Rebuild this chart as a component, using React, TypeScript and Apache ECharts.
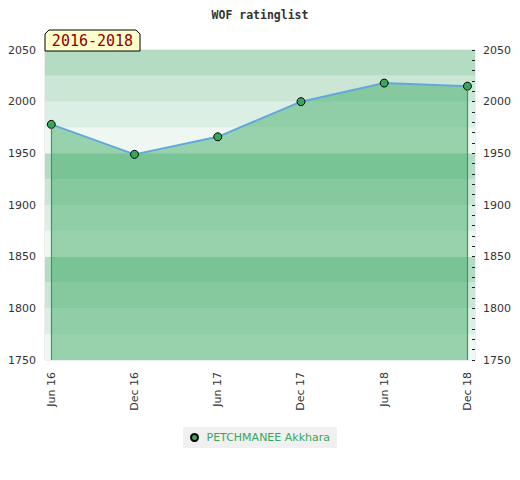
import React, { useEffect, useRef } from "react";
import * as echarts from "echarts";

const categories = ["Jun 16", "Dec 16", "Jun 17", "Dec 17", "Jun 18", "Dec 18"];
const ratings = [1978, 1949, 1966, 2000, 2018, 2015];
const playerName = "PETCHMANEE Akkhara";
const periodLabel = "2016-2018";
const chartTitle = "WOF ratinglist";
const yMin = 1750;
const yMax = 2050;
// bands from the bottom up: very light, light, medium, dark (repeating)
const bandColors = ["#eef7f1", "#dcefe4", "#cce6d6", "#b3dcc2"];

export default function App() {
  const ref = useRef<HTMLDivElement>(null);
  useEffect(() => {
    if (!ref.current) return;
    document.body.style.margin = "0";
    const chart = echarts.init(ref.current, null, { renderer: "svg" });
    const pts = categories.map((c, i) => [i, ratings[i]]);
    const last = categories.length - 1;
    const option: any = {
      animation: false,
      title: {
        text: chartTitle,
        left: "center",
        top: 4,
        textStyle: {
          fontFamily: "DejaVu Sans Mono",
          fontWeight: "bold",
          fontSize: 11.5,
          color: "#333",
        },
      },
      grid: {
        left: 45,
        right: 45,
        top: 50,
        bottom: 120,
        show: true,
        borderColor: "#dddddd",
        borderWidth: 1,
        backgroundColor: "transparent",
      },
      xAxis: {
        type: "value",
        min: -0.0757,
        max: last + 0.091,
        splitLine: { show: false },
        axisLine: { show: false },
        axisTick: { show: false },
        axisLabel: {
          customValues: categories.map((c, i) => i),
          formatter: (v: number) => categories[Math.round(v)] ?? "",
          rotate: 90,
          margin: 12,
          fontFamily: "DejaVu Sans",
          fontSize: 11,
          color: "#333",
        },
      },
      yAxis: [
        {
          type: "value",
          position: "left",
          min: yMin,
          max: yMax,
          interval: 25,
          axisLine: { show: false },
          axisTick: { show: false },
          splitLine: { show: false },
          splitArea: { show: true, areaStyle: { color: bandColors, opacity: 1 } },
          axisLabel: {
            formatter: (v: number) => (v % 50 === 0 ? String(v) : ""),
            margin: 9,
            fontFamily: "DejaVu Sans",
            fontSize: 11,
            color: "#333",
          },
        },
        {
          type: "value",
          position: "right",
          min: yMin,
          max: yMax,
          interval: 50,
          axisLine: { show: false },
          axisTick: { show: true, inside: true, length: 3, lineStyle: { color: "#222", width: 1 } },
          minorTick: { show: true, splitNumber: 5, length: 3, lineStyle: { color: "#222", width: 1 } },
          splitLine: { show: false },
          minorSplitLine: { show: false },
          axisLabel: {
            formatter: (v: number) => String(v),
            margin: 8,
            fontFamily: "DejaVu Sans",
            fontSize: 11,
            color: "#333",
          },
        },
      ],
      legend: {
        data: [playerName],
        left: "center",
        top: 427,
        backgroundColor: "#f0f0f0",
        padding: [5, 7, 5, 7],
        icon: "circle",
        itemWidth: 14,
        itemHeight: 7,
        textStyle: { color: "#3aa65a", fontFamily: "DejaVu Sans", fontSize: 11 },
      },
      series: [
        {
          name: playerName,
          type: "line",
          data: pts,
          z: 3,
          symbol: "circle",
          symbolSize: 8,
          itemStyle: { color: "#3aa65a", borderColor: "#000", borderWidth: 1 },
          lineStyle: { color: "#62a8dc", width: 2 },
          areaStyle: { color: "rgb(59,169,99)", opacity: 0.48, origin: "start" },
          markLine: {
            silent: true,
            symbol: ["none", "none"],
            label: { show: false },
            lineStyle: { color: "#2fa055", width: 1.2, type: "solid", opacity: 1 },
            data: [
              [{ coord: [0, ratings[0]] }, { coord: [0, yMin] }],
              [{ coord: [last, ratings[last]] }, { coord: [last, yMin] }],
            ],
          },
        },
      ],
      graphic: [
        {
          type: "polygon",
          shape: {
            points: [
              [45, 51],
              [45, 34],
              [49, 30],
              [136, 30],
              [140, 34],
              [140, 51],
            ],
          },
          style: { fill: "#ffffcc", stroke: "#000", lineWidth: 1 },
          z: 10,
        },
        {
          type: "text",
          x: 92.5,
          y: 41,
          style: {
            text: periodLabel,
            fill: "#8b0000",
            font: "15px 'DejaVu Sans Mono'",
            align: "center",
            verticalAlign: "middle",
          },
          z: 11,
        },
      ],
    };
    chart.setOption(option);
    return () => chart.dispose();
  }, []);
  return <div ref={ref} style={{ width: 520, height: 480 }} />;
}
